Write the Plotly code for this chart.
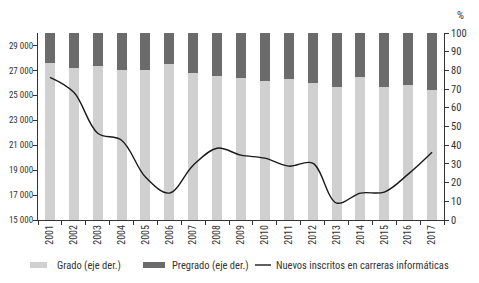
import plotly.graph_objects as go

years = [str(y) for y in range(2001, 2018)]
grado = [84.1, 81.4, 82.5, 80.4, 80.4, 83.6, 78.4, 76.8, 75.7, 74.3, 75.2, 73.2, 70.9, 76.6, 70.9, 72.3, 69.5]
pregrado = [round(100 - g, 1) for g in grado]
inscritos = [26440, 25240, 21960, 21400, 18440, 17160, 19400, 20760, 20200, 19960, 19320, 19560, 16360, 17160, 17240, 18680, 20440]

left_ticks = list(range(15000, 29001, 2000))
left_labels = [f"{v:,}".replace(",", " ") for v in left_ticks]
right_ticks = list(range(0, 101, 10))

legend_names = ["Grado (eje der.)", "Pregrado (eje der.)", "Nuevos inscritos en carreras informáticas"]

FONT = "Liberation Sans Narrow, Roboto Condensed, Roboto, sans-serif"
TXT = "#333333"
C_GRADO = "#d0d0d0"
C_PRE = "#6b6b6b"
C_LINE = "#1a1a1a"

# page body has an 8px default margin; size the figure to fit the window
OFF = 8
W, H = 479 - 2 * OFF, 283 - 2 * OFF
# plot area in screen pixels: x 38..444, y 33..220
ML, MT = 38 - OFF, 33 - OFF
MR = W - (444 - OFF)
MB = H - (220 - OFF)
PW, PH = W - ML - MR, H - MT - MB


def px(xs):
    return (xs - OFF - ML) / PW


def py(ys):
    return (H - MB - (ys - OFF)) / PH


fig = go.Figure()
fig.add_trace(go.Bar(x=years, y=grado, name=legend_names[0], marker_color=C_GRADO,
                     marker_line_width=0, width=0.42, yaxis="y", showlegend=False))
fig.add_trace(go.Bar(x=years, y=pregrado, name=legend_names[1], marker_color=C_PRE,
                     marker_line_width=0, width=0.42, yaxis="y", showlegend=False))
fig.add_trace(go.Scatter(x=years, y=inscritos, name=legend_names[2],
                         mode="lines", line=dict(color=C_LINE, width=1.4, shape="spline", smoothing=1.0),
                         yaxis="y2", showlegend=False))

axis_common = dict(showline=True, linecolor="#333", linewidth=1, ticks="outside", ticklen=4,
                   tickcolor="#333", showgrid=False, zeroline=False, automargin=False)

# manual legend (screen pixel positions)
ly = 265
shapes = [
    dict(type="rect", xref="paper", yref="paper", x0=px(30), x1=px(47), y0=py(268), y1=py(262),
         fillcolor=C_GRADO, line_width=0),
    dict(type="rect", xref="paper", yref="paper", x0=px(143), x1=px(165), y0=py(268), y1=py(262),
         fillcolor=C_PRE, line_width=0),
    dict(type="line", xref="paper", yref="paper", x0=px(255), x1=px(271), y0=py(ly), y1=py(ly),
         line=dict(color=C_LINE, width=1.4)),
]
annotations = [
    dict(text="%", xref="paper", yref="paper", x=px(460), y=py(15), xanchor="center",
         yanchor="middle", showarrow=False, font=dict(size=11, color=TXT)),
]
for xs, name in zip([55, 170, 274], legend_names):
    annotations.append(dict(text=name, xref="paper", yref="paper", x=px(xs), y=py(ly),
                            xanchor="left", yanchor="middle", showarrow=False,
                            font=dict(size=10.5, color=TXT)))

fig.update_layout(
    width=W, height=H,
    margin=dict(l=ML, r=MR, t=MT, b=MB),
    barmode="stack",
    plot_bgcolor="white", paper_bgcolor="white",
    font=dict(family=FONT, size=10, color=TXT),
    showlegend=False,
    xaxis=dict(type="category", tickangle=-90, tickson="boundaries", range=[-0.5, 16.5],
               tickfont=dict(size=10), **axis_common),
    yaxis=dict(side="right", range=[0, 100], tickvals=right_ticks, tickfont=dict(size=10.5),
               **axis_common),
    yaxis2=dict(side="left", overlaying="y", range=[15000, 30000], tickvals=left_ticks,
                ticktext=left_labels, tickfont=dict(size=9), ticklabelstandoff=-2,
                **axis_common),
    shapes=shapes,
    annotations=annotations,
)

fig.write_html("out.html")
